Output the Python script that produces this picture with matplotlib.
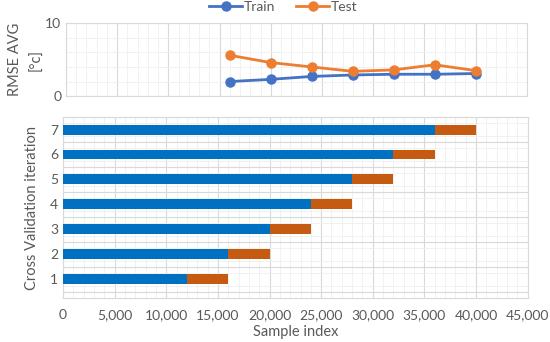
import matplotlib
matplotlib.use("Agg")
import matplotlib.pyplot as plt
from matplotlib.ticker import MultipleLocator, FuncFormatter
from matplotlib.lines import Line2D

plt.rcParams['font.family'] = ['Lato', 'DejaVu Sans']

# Data
sample_points = [16000, 20000, 24000, 28000, 32000, 36000, 40000]
rmse_train = [2.0, 2.3, 2.7, 2.9, 3.0, 3.0, 3.1]
rmse_test = [5.6, 4.6, 4.0, 3.4, 3.6, 4.3, 3.5]

iterations = [1, 2, 3, 4, 5, 6, 7]
train_size = [12000, 16000, 20000, 24000, 28000, 32000, 36000]
test_size = [4000, 4000, 4000, 4000, 4000, 4000, 4000]

TXT = '#595959'
GRID_MAJ = '#d9d9d9'
GRID_MIN = '#efefef'

fig = plt.figure(figsize=(5.5, 3.42), dpi=100)

# Top line chart
ax1 = fig.add_axes([0.12, 0.719, 0.838, 0.213])
ax1.plot(sample_points, rmse_train, color='#4472C4', lw=2, marker='o', ms=6.5, label='Train', zorder=3)
ax1.plot(sample_points, rmse_test, color='#ED7D31', lw=2, marker='o', ms=6.5, label='Test', zorder=3)
ax1.set_xlim(0, 45000)
ax1.set_ylim(0, 10)
ax1.xaxis.set_major_locator(MultipleLocator(5000))
ax1.xaxis.set_minor_locator(MultipleLocator(1000))
ax1.yaxis.set_major_locator(MultipleLocator(10))
ax1.yaxis.set_minor_locator(MultipleLocator(2))
ax1.grid(which='major', color=GRID_MAJ, lw=0.8)
ax1.grid(which='minor', color=GRID_MIN, lw=0.6)
ax1.set_axisbelow(True)
ax1.tick_params(which='both', length=0, labelbottom=False, labelsize=10, colors=TXT)
for s in ax1.spines.values():
    s.set_color(GRID_MAJ)
ax1.set_ylabel('RMSE AVG\n[°c]', fontsize=10.5, color=TXT, linespacing=1.7)
ax1.yaxis.set_label_coords(-0.048, 0.5)

handles = [Line2D([], [], color='#4472C4', lw=2, marker='o', ms=6.5),
           Line2D([], [], color='#ED7D31', lw=2, marker='o', ms=6.5)]
fig.legend(handles, ['Train', 'Test'], loc='upper center', bbox_to_anchor=(0.515, 1.035),
           ncol=2, frameon=False, fontsize=10, labelcolor=TXT, handlelength=2.4,
           handletextpad=0.1, columnspacing=1.5)

# Bottom bar chart
ax2 = fig.add_axes([0.1145, 0.1287, 0.845, 0.529])
ax2.barh(iterations, train_size, height=0.4, color='#0070C0', zorder=3)
ax2.barh(iterations, test_size, left=train_size, height=0.4, color='#C55A11', zorder=3)
ax2.set_xlim(0, 45000)
ax2.set_ylim(0.5, 7.5)
ax2.xaxis.set_major_locator(MultipleLocator(5000))
ax2.xaxis.set_minor_locator(MultipleLocator(1000))
ax2.set_yticks(iterations)
ax2.set_yticks([i + 0.5 for i in range(0, 8)] + [i + 0.25 for i in range(0, 8)] + [i + 0.75 for i in range(0, 7)], minor=True)
ax2.xaxis.set_major_formatter(FuncFormatter(lambda v, p: f'{int(v):,}'))
ax2.grid(which='major', axis='x', color=GRID_MAJ, lw=0.8)
ax2.grid(which='minor', axis='x', color=GRID_MIN, lw=0.6)
ax2.grid(which='minor', axis='y', color=GRID_MIN, lw=0.6)
for yv in [i + 0.5 for i in range(0, 8)]:
    ax2.axhline(yv, color=GRID_MAJ, lw=0.8, zorder=1)
ax2.set_axisbelow(True)
ax2.tick_params(which='both', length=0, labelsize=10, colors=TXT)
ax2.tick_params(axis='x', pad=8)
for s in ax2.spines.values():
    s.set_color(GRID_MAJ)
ax2.set_xlabel('Sample index', fontsize=10.5, color=TXT, labelpad=3)
ax2.set_ylabel('Cross Validation iteration', fontsize=10.5, color=TXT, labelpad=8)

fig.savefig('out.png', dpi=100)
